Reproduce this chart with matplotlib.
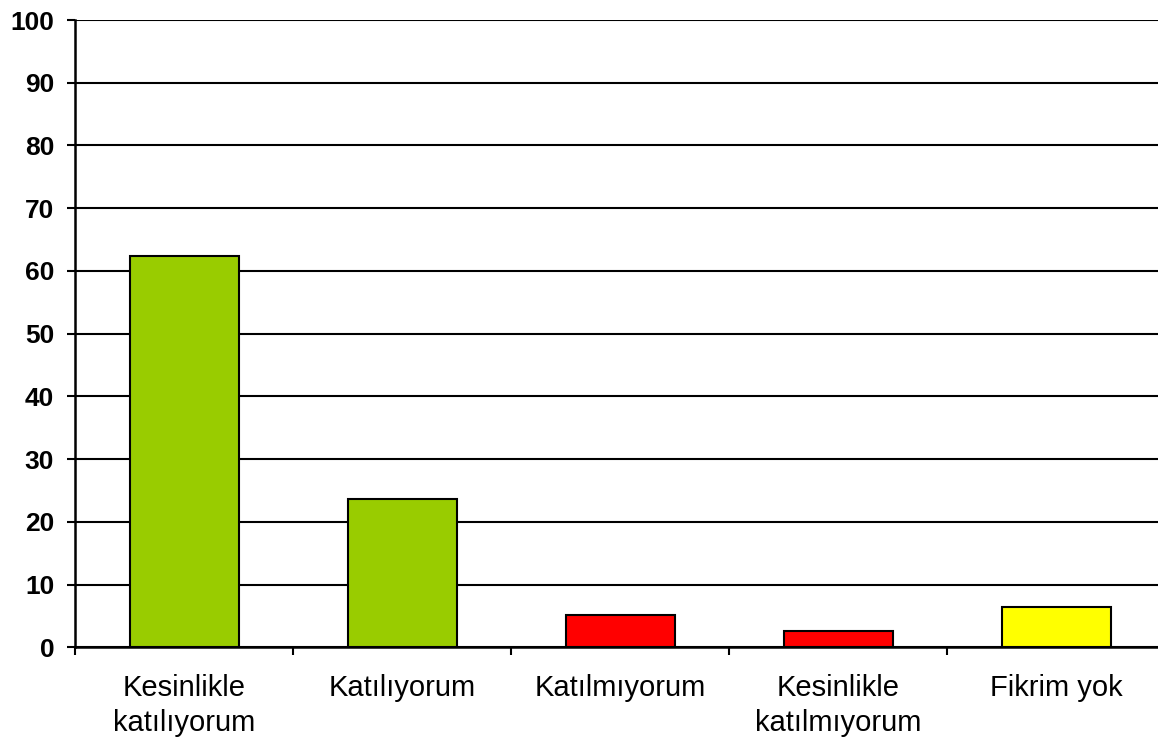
import matplotlib.pyplot as plt
import numpy as np

# Veriler
categories = ['Kesinlikle\nkatılıyorum', 'Katılıyorum', 'Katılmıyorum',
              'Kesinlikle\nkatılmıyorum', 'Fikrim yok']
values = [62.4, 23.6, 5.15, 2.55, 6.4]
colors = ['#99CC00', '#99CC00', '#FF0000', '#FF0000', '#FFFF00']
y_ticks = list(range(0, 101, 10))

plt.rcParams['font.family'] = ['Liberation Sans', 'DejaVu Sans']

fig = plt.figure(figsize=(11.58, 7.40), dpi=100)
ax = fig.add_axes([75 / 1158, 92.7 / 740, 1090 / 1158, 627.3 / 740])

x = np.arange(len(categories))
ax.set_axisbelow(True)
ax.bar(x, values, width=0.5, color=colors, edgecolor='black', linewidth=1.5, zorder=3)

# Izgara çizgileri
ax.set_ylim(0, 100)
ax.set_xlim(-0.5, len(categories) - 0.5)
ax.set_yticks(y_ticks)
ax.set_yticklabels([str(t) for t in y_ticks], fontsize=19, fontweight='bold')
ax.yaxis.grid(True, color='black', linewidth=1.5)
ax.tick_params(axis='y', length=6, width=1.5, direction='out', pad=9)

# Kategori etiketleri ortada, çentikler sınırlarda
ax.set_xticks(x)
ax.set_xticklabels(categories, fontsize=21, linespacing=1.32)
ax.tick_params(axis='x', which='major', length=0, pad=19.5)
ax.set_xticks(np.arange(-0.5, len(categories), 1), minor=True)
ax.tick_params(axis='x', which='minor', length=6, width=1.5, direction='out')

for side in ['top', 'right']:
    ax.spines[side].set_visible(False)
for side in ['left', 'bottom']:
    ax.spines[side].set_linewidth(1.8)

plt.savefig('out.png', dpi=100)
